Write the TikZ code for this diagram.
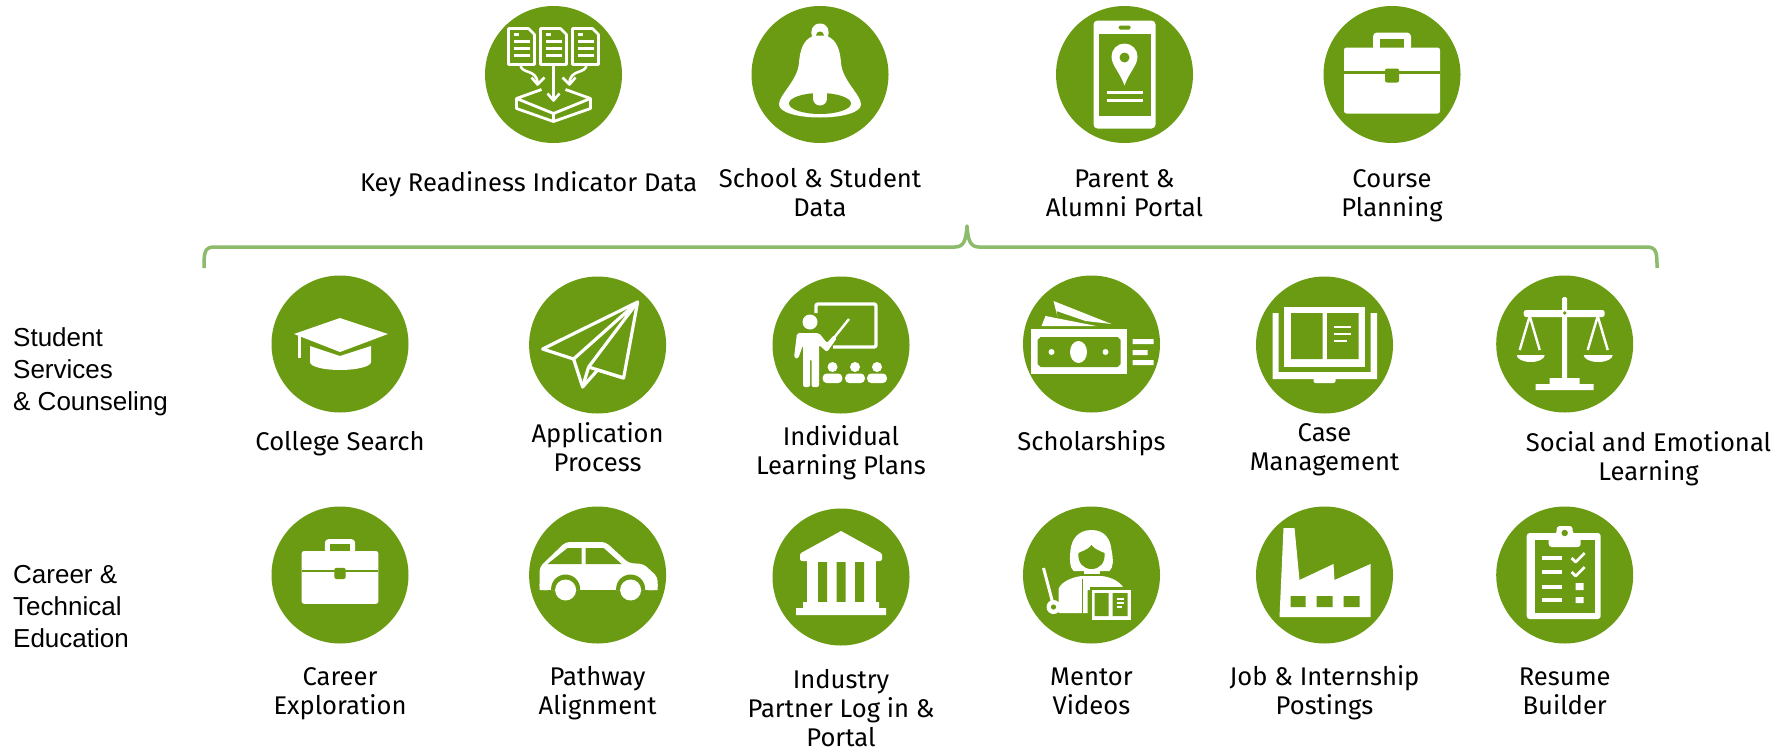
\documentclass[tikz,border=0pt]{standalone}
\usepackage{fontspec}
\setmainfont{Fira Sans}
\newfontfamily\sidefont{Liberation Sans}
\definecolor{leaf}{HTML}{6A9B12}
\definecolor{brk}{HTML}{8DBB6C}
\tikzset{
  badge/.style={circle,fill=leaf,minimum size=137pt,inner sep=0pt,outer sep=0pt},
  lab/.style={align=center,inner sep=0pt,text=black,font=\fontsize{25.6}{29}\selectfont},
  sidelab/.style={align=left,inner sep=0pt,anchor=west,text=black,font=\sidefont\fontsize{26}{32}\selectfont},
  wl/.style={draw=white,line width=#1,line join=round,fill=none},
  wl/.default=2.5pt,
  wf/.style={fill=white,draw=none},
  gf/.style={fill=leaf,draw=none},
  gl/.style={draw=leaf,line width=#1},
  gl/.default=2.5pt
}
\newcommand{\icData}{%
  \foreach \d in {-32,0,32}{
    \begin{scope}[xshift=\d pt]
      \draw[wl=2.6pt] (-13,-46)--(7,-46)--(13,-40)--(13,-10)--(-13,-10)--cycle;
      \draw[wl=2.6pt] (-8,-33)--(8,-33) (-8,-26)--(8,-26) (-8,-19)--(8,-19) (-8,-40)--(-3,-40);
    \end{scope}}
  \draw[wl=2.6pt] (-33,-10) .. controls (-33,0) and (-16,-6) .. (-16,9);
  \draw[wl=2.6pt] (33,-10) .. controls (33,0) and (16,-6) .. (16,9);
  \draw[wl=2.6pt] (0,-10)--(0,26);
  \draw[wl=2.6pt] (-22,3)--(-16,10)--(-9,3) (22,3)--(16,10)--(9,3) (-6,19)--(0,26)--(6,19);
  \draw[wl=2.8pt] (-12,15)--(-37,24)--(0,39)--(37,24)--(12,15);
  \draw[wl=2.8pt] (-37,24)--(-37,34)--(0,47)--(37,34)--(37,24) (0,39)--(0,47);
}
\newcommand{\icBell}{%
  \path[wf] (0,-51) .. controls (-8,-51) and (-10,-43) .. (-8,-38)
    .. controls (-17,-34) and (-20,-24) .. (-21,-12)
    .. controls (-22,6) and (-41,20) .. (-41,30)
    .. controls (-41,38) and (-22,43) .. (0,43)
    .. controls (22,43) and (41,38) .. (41,30)
    .. controls (41,20) and (22,6) .. (21,-12)
    .. controls (20,-24) and (17,-34) .. (8,-38)
    .. controls (10,-43) and (8,-51) .. (0,-51) -- cycle;
  \path[gf] (0,29) ellipse [x radius=31,y radius=10.5];
  \path[gf] (-4,-39)--(4,-39) arc[start angle=0,end angle=180,radius=4pt]--cycle;
  \path[wf] (-7,18) rectangle (7,24);
  \path[wf] (0,24) circle (7);
}
\newcommand{\icPhone}{%
  \path[wf,rounded corners=4pt] (-31,-54) rectangle (31,54);
  \path[gf] (-26,-41) rectangle (26,41);
  \path[gf,rounded corners=1.5pt] (-6,-49) rectangle (6,-45);
  \path[wf] (0,11) .. controls (-5,-3) and (-13,-9) .. (-13,-18)
    arc[start angle=180,end angle=0,radius=13pt]
    .. controls (13,-9) and (5,-3) .. (0,11) -- cycle;
  \path[gf] (0,-17) circle (5);
  \draw[wl=3pt] (-18,18)--(18,18) (-18,26)--(18,26);
}
\newcommand{\icCase}{%
  \path[wf,rounded corners=4pt] (-19,-24) -- (-19,-42) -- (19,-42) -- (19,-24) -- cycle;
  \path[gf] (-12,-36) rectangle (12,-26);
  \path[wf,rounded corners=2.5pt] (-48,-27) rectangle (48,39);
  \path[gf] (-48,-3.5) rectangle (48,-0.5);
  \path[gf,rounded corners=2pt] (-7,-6) rectangle (7,8);
}
\newcommand{\icCap}{%
  \path[wf] (-30,2) -- (-30,18) .. controls (-30,23) and (-15,26) .. (0,26)
    .. controls (15,26) and (31,23) .. (31,18) -- (31,2) -- (0,12) -- cycle;
  \path[wf] (-46,-10)--(0,-26)--(48,-10)--(0,8)--cycle;
  \path[wf] (-42.5,-8) rectangle (-39.5,14);
}
\newcommand{\icPlane}{%
  \draw[wl=3.2pt] (40,-43)--(-55,4)--(-24,14)--(-15,42)--(0,25)--(26,33)--cycle;
  \draw[wl=3.2pt] (-24,14)--(40,-43)--(-9,22)--(26,33) (-9,22)--(-15,42);
}
\newcommand{\icTeacher}{%
  \draw[wl=3.4pt,rounded corners=2pt] (-25,-32)--(-25,-41)--(35,-41)--(35,2)--(-8,2);
  \path[wf] (-31,-23) circle (7.5);
  \path[wf,rounded corners=2pt] (-44,-12)--(-22,-12)--(-14,-2)--(-7,-10)--(-4,-7)--(-14,7)--(-22,0)--(-22,42)--(-29.5,42)--(-29.5,14)--(-31,14)--(-31,42)--(-38,42)--(-38,0)--(-43,14)--(-47,13)--cycle;
  \draw[wl=2.4pt] (-8,-6)--(8,-26);
  \foreach \d in {-8.5,14,36}{
    \path[wf] (\d,22) circle (5);
    \path[wf,rounded corners=4pt] (\d-9.8,38)--(\d-9.8,28.5)--(\d+9.8,28.5)--(\d+9.8,38)--cycle;
  }
}
\newcommand{\icMoney}{%
  \path[wf] (-38,-43)--(20,-20)--(-6,-23)--(-35,-33)--(-34,-27)--cycle;
  \path[wf] (-46,-28)--(5,-18)--(-50,-18)--cycle;
  \path[wf] (-61,-15) rectangle (35,30);
  \path[gf] (-51,-7)--(26,-7)--(29,-4)--(29,20)--(26,23)--(-51,23)--(-54,20)--(-54,-4)--cycle;
  \path[wf] (-13,8) ellipse [x radius=8.5,y radius=11];
  \path[wf] (-40,8) circle (3) (14,8) circle (3);
  \path[wf] (41,-5) rectangle (62,0) (41,6) rectangle (56,11) (41,16) rectangle (62,21);
}
\newcommand{\icBook}{%
  \path[wf] (-40.5,-38) rectangle (40.5,22);
  \path[gf] (-33.5,-32) rectangle (-2,14) (2.7,-32) rectangle (34,14);
  \draw[wl=2.5pt] (9,-18)--(26,-18) (9,-11)--(26,-11) (9,-4)--(22,-4);
  \path[wf] (-52,-32) rectangle (-46,34) (46,-32) rectangle (52.5,34) (-52,27) rectangle (52.5,34);
  \path[wf,rounded corners=2pt] (-11,30) rectangle (11,38);
}
\newcommand{\icScales}{%
  \path[wf,rounded corners=1.5pt] (-2.5,-47) rectangle (2.5,36);
  \path[wf,rounded corners=2.5pt] (-41,-34) rectangle (40,-27);
  \path[gf] (0,-31) circle (1.8);
  \path[wf] (-15,34) rectangle (15,40) (-29,40) rectangle (29,46);
  \draw[wl=2.4pt] (-45,6)--(-35,-28)--(-25,6) (23,6)--(33,-28)--(43,6);
  \path[wf] (-48,11) arc[start angle=180,end angle=360,x radius=14pt,y radius=7pt]--cycle;
  \path[wf] (19,11) arc[start angle=180,end angle=360,x radius=14.5pt,y radius=7pt]--cycle;
}
\newcommand{\icCar}{%
  \path[wf,rounded corners=4pt] (-58,15)--(-58,-8)--(-32,-33)--(8,-33)--(31,-12)--(46,-11)--(60,2)--(60,15)--cycle;
  \path[gf] (-50,-11)--(-30,-27)--(-16,-27)--(-16,-11)--cycle;
  \path[gf] (-12,-27)--(6,-27)--(24,-11)--(-12,-11)--cycle;
  \path[gf] (-32,14) circle (14.5) (33,14) circle (14.5) (-50,15) rectangle (50,30);
  \path[wf] (-32,15) circle (10.5) (33,15) circle (10.5);
  \path[wf] (-58,9) rectangle (-50,15) (50,9) rectangle (60,15);
  \path[wf] (-16,9) rectangle (17,15);
}
\newcommand{\icBank}{%
  \path[wf] (0,-46)--(40,-24)--(-40,-24)--cycle;
  \path[wf,rounded corners=2pt] (-41,-24) rectangle (41,-16);
  \path[wf] (-34,-18) rectangle (35,30);
  \path[gf] (-23,-15) rectangle (-14,25) (-4.5,-15) rectangle (4.5,25) (14,-15) rectangle (23,25);
  \path[wf] (-38,25) rectangle (38,31) (-45,31) rectangle (45,38);
}
\newcommand{\icMentor}{%
  \path[wf] (0,-45) .. controls (-14,-45) and (-20,-35) .. (-21,-25)
    .. controls (-22,-15) and (-22,-8) .. (-18,-4) -- (18,-4)
    .. controls (22,-8) and (22,-15) .. (20,-25)
    .. controls (19,-35) and (14,-45) .. (0,-45) -- cycle;
  \path[gf] (0,-30) .. controls (-5,-24) and (-10,-24) .. (-13,-22)
    .. controls (-14,-12) and (-8,-6) .. (0,-6)
    .. controls (8,-6) and (14,-12) .. (13,-22)
    .. controls (8,-24) and (3,-26) .. (0,-30) -- cycle;
  \path[wf] (-8,-5) rectangle (8,2);
  \path[gf] (-8,-1) rectangle (8,0.5);
  \path[wf] (-33,38) -- (-33,14) .. controls (-30,6) and (-18,2) .. (-10,1) -- (10,1)
     .. controls (20,2) and (30,7) .. (33,15) -- (-4,15) -- (-4,38) -- cycle;
  \path[gf] (-10,4) rectangle (-8.5,38);
  \path[gf] (-2,12) rectangle (41,48);
  \path[wf] (0,15) rectangle (39,45);
  \path[gf] (3,18) rectangle (17,41) (21,18) rectangle (36,41);
  \draw[wl=1.2pt] (25,24)--(32,24) (25,28)--(32,28) (25,32)--(30,32);
  \draw[wl=3pt] (-48,-7)--(-39,27);
  \path[wf] (-38,32) circle (7);
  \path[gf] (-38,32) circle (2.6);
}
\newcommand{\icFactory}{%
  \path[wf] (-41,-47)--(-30,-47)--(-25,5)--(9,-11)--(10,5)--(46,-11)--(46,42)--(-45,42)--cycle;
  \path[gf] (-34,21) rectangle (-19,32) (-8,21) rectangle (8,32) (19,21) rectangle (35,32);
}
\newcommand{\icClip}{%
  \path[wf,rounded corners=3pt] (-38,-42) rectangle (36,44);
  \path[gf] (-30,-35) rectangle (30,38);
  \path[wf,rounded corners=3pt] (-16,-28) -- (-16,-41) -- (-8,-41) -- (-8,-49) -- (8,-49) -- (8,-41) -- (16,-41) -- (16,-28) -- cycle;
  \path[gf] (0,-42) circle (3.2);
  \draw[wl=3.2pt] (-23,-17)--(-3,-17) (-23,-3)--(-3,-3) (-23,12)--(-3,12) (-23,25)--(-3,25);
  \draw[wl=2.8pt] (7,-17)--(11,-13)--(20,-22) (7,-3)--(11,1)--(20,-8);
  \path[wf] (11,8) rectangle (19,15) (11,22) rectangle (19,28);
}
\newcommand{\badge}[4]{%
  \node[badge] (#1) at (#2,#3) {};
  \begin{scope}[shift={(#1.center)}] #4 \end{scope}
}
\begin{document}
\begin{tikzpicture}[x=1pt,y=-1pt]
\useasboundingbox (0,0) rectangle (1790,750);
\path[fill=white] (0,0) rectangle (1790,750);
% bracket
\draw[draw=brk,line width=3.5pt,line join=round]
  (204,268) .. controls (204,254) and (204,247) .. (214,247) -- (955,247)
  .. controls (964,247) and (966,240) .. (967,226)
  .. controls (968,240) and (970,247) .. (979,247) -- (1647,247)
  .. controls (1657,247) and (1657,254) .. (1657,268);
% top row
\badge{data}{553.5}{74.5}{\icData}
\badge{bell}{820}{74.5}{\icBell}
\badge{phone}{1124.5}{74.5}{\icPhone}
\badge{course}{1392}{74.5}{\icCase}
% middle row
\badge{cap}{340}{344}{\icCap}
\badge{plane}{597.6}{345}{\icPlane}
\badge{teacher}{841}{345}{\icTeacher}
\badge{money}{1091.5}{344}{\icMoney}
\badge{book}{1324.5}{345}{\icBook}
\badge{scales}{1564.7}{344}{\icScales}
% bottom row
\badge{career}{340}{575}{\begin{scope}[scale=0.8,yshift=3pt]\icCase\end{scope}}
\badge{car}{597.6}{575}{\icCar}
\badge{bank}{841}{577}{\icBank}
\badge{mentor}{1091.5}{575}{\icMentor}
\badge{factory}{1324.5}{575}{\icFactory}
\badge{clip}{1564.7}{575}{\icClip}
% labels
\node[lab] (tdata) at (528.6,186) {\strut Key Readiness Indicator Data};
\node[lab] (tbell) at (820,196) {\strut School \& Student\\\strut Data};
\node[lab] (tphone) at (1124.5,196) {\strut Parent \&\\\strut Alumni Portal};
\node[lab] (tcourse) at (1392,196) {\strut Course\\\strut Planning};
\node[lab] (tcap) at (340,445) {\strut College Search};
\node[lab] (tplane) at (597.6,451.5) {\strut Application\\\strut Process};
\node[lab] (tteacher) at (841,454.5) {\strut Individual\\\strut Learning Plans};
\node[lab] (tmoney) at (1091.5,445) {\strut Scholarships};
\node[lab] (tbook) at (1324.5,450.5) {\strut Case\\\strut Management};
\node[lab] (tscales) at (1648.5,460) {\strut Social and Emotional\\\strut Learning};
\node[lab] (tcareer) at (340,694.5) {\strut Career\\\strut Exploration};
\node[lab] (tcar) at (597.6,694) {\strut Pathway\\\strut Alignment};
\node[lab] (tbank) at (841,711.5) {\strut Industry\\\strut Partner Log in \&\\\strut Portal};
\node[lab] (tmentor) at (1091.5,694.5) {\strut Mentor\\\strut Videos};
\node[lab] (tfactory) at (1324.5,694.5) {\strut Job \& Internship\\\strut Postings};
\node[lab] (tclip) at (1564.7,694.5) {\strut Resume\\\strut Builder};
\node[sidelab] (student) at (13,372) {Student\\Services\\\& Counseling};
\node[sidelab] (cte) at (13,607) {Career \&\\Technical\\Education};
\end{tikzpicture}
\end{document}
